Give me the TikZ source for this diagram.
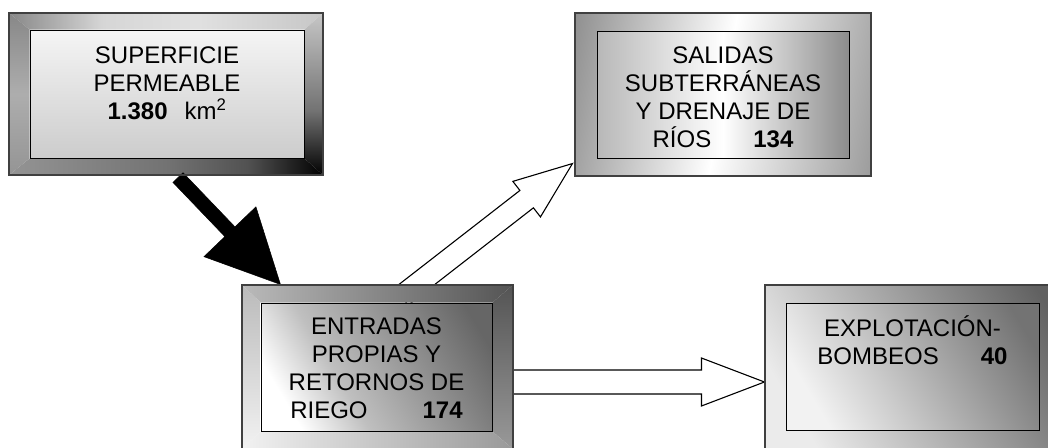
\documentclass[tikz,border=0pt]{standalone}
\usepackage{fontspec}
\setmainfont{Liberation Sans}
\usetikzlibrary{calc,backgrounds}
\definecolor{outerline}{gray}{0.25}
% box 1 frame strips (unrotated shadings)
\pgfdeclarehorizontalshading{shAtop}{100bp}{color(0bp)=(black!47); color(25bp)=(black!47); color(40bp)=(black!16); color(55bp)=(black!12); color(75bp)=(black!22); color(100bp)=(black!22)}
\pgfdeclareverticalshading{shAright}{100bp}{color(0bp)=(black); color(25bp)=(black); color(45bp)=(black!55); color(75bp)=(black!22); color(100bp)=(black!22)}
\pgfdeclarehorizontalshading{shAbot}{100bp}{color(0bp)=(black!42); color(25bp)=(black!42); color(50bp)=(black!55); color(63bp)=(black!68); color(75bp)=(black); color(100bp)=(black)}
\pgfdeclareverticalshading{shAleft}{100bp}{color(0bp)=(black!42); color(25bp)=(black!42); color(50bp)=(black!32); color(75bp)=(black!47); color(100bp)=(black!47)}
\pgfdeclareverticalshading{shAi}{100bp}{color(0bp)=(black!20); color(25bp)=(black!20); color(75bp)=(black!4); color(100bp)=(black!4)}
% box 3 frame strips
\pgfdeclarehorizontalshading{shCtop}{100bp}{color(0bp)=(black!27); color(25bp)=(black!27); color(75bp)=(black!67); color(100bp)=(black!67)}
\pgfdeclareverticalshading{shCright}{100bp}{color(0bp)=(black!40); color(25bp)=(black!40); color(75bp)=(black!67); color(100bp)=(black!67)}
\pgfdeclarehorizontalshading{shCbot}{100bp}{color(0bp)=(black!5); color(25bp)=(black!5); color(75bp)=(black!40); color(100bp)=(black!40)}
\pgfdeclareverticalshading{shCleft}{100bp}{color(0bp)=(black!5); color(25bp)=(black!5); color(75bp)=(black!27); color(100bp)=(black!27)}
\pgfdeclarehorizontalshading{shBo}{100bp}{color(0bp)=(black!45); color(20bp)=(black!45); color(50bp)=(white); color(80bp)=(black!40); color(100bp)=(black!40)}
\pgfdeclarehorizontalshading{shBi}{100bp}{color(0bp)=(black!28); color(25bp)=(black!28); color(50bp)=(white); color(75bp)=(black!45); color(100bp)=(black!45)}
\pgfdeclarehorizontalshading{shCi}{100bp}{color(0bp)=(white); color(25bp)=(white); color(40bp)=(black!25); color(78bp)=(black!60); color(100bp)=(black!60)}
\pgfdeclarehorizontalshading{shDo}{100bp}{color(0bp)=(black!8); color(25bp)=(black!8); color(80bp)=(black!62); color(100bp)=(black!62)}
\pgfdeclarehorizontalshading{shDi}{100bp}{color(0bp)=(black!5); color(25bp)=(black!5); color(78bp)=(black!55); color(100bp)=(black!55)}
\tikzset{
  outerbox/.style={rectangle, draw=outerline, line width=1.1pt, inner sep=0pt},
  innerbox/.style={rectangle, draw=black, line width=1pt, inner sep=0pt},
  boxtext/.style={anchor=base, inner sep=0pt, align=center, font=\fontsize{24}{28}\selectfont},
  hollowarrow/.style={draw=black, line width=1.1pt, fill=white, line join=miter},
  solidarrow/.style={fill=black, draw=black, line width=0.5pt}
}
\begin{document}
\begin{tikzpicture}[x=1pt,y=-1pt]
\useasboundingbox (0,0) rectangle (1048,447);
\begin{scope}
\clip (0,0) rectangle (1048,447);
% Box 1
\node[outerbox, minimum width=314pt, minimum height=162pt] (s1o) at (166,94) {};
\node[innerbox, minimum width=274pt, minimum height=128pt, shading=shAi] (s1i) at (167,94) {};
\node[boxtext] (s1t) at ($(s1i.north)+(0,90)$) {SUPERFICIE\\PERMEABLE\\\textbf{1.380}\hspace{17pt}km\textsuperscript{2}};
% Box 2
\node[outerbox, minimum width=296pt, minimum height=163pt, shading=shBo, shading angle=-10] (s2o) at (723,94.5) {};
\node[innerbox, minimum width=252pt, minimum height=127pt, shading=shBi, shading angle=0] (s2i) at (723,94.5) {};
\node[boxtext] (s2t) at ($(s2i.north)+(0,117)$) {SALIDAS\\SUBTERRÁNEAS\\Y DRENAJE DE\\RÍOS\hspace{42pt}\textbf{134}};
% Box 3
\node[outerbox, minimum width=271pt, minimum height=164pt] (s3o) at (377.5,367) {};
\node[innerbox, minimum width=231pt, minimum height=128pt, shading=shCi, shading angle=31] (s3i) at (376.5,367) {};
\node[boxtext] (s3t) at ($(s3i.north)+(0,116)$) {ENTRADAS\\PROPIAS Y\\RETORNOS DE\\RIEGO\hspace{55pt}\textbf{174}};
% Box 4
\node[outerbox, minimum width=295pt, minimum height=164pt, shading=shDo, shading angle=31] (s4o) at (912.5,367) {};
\node[innerbox, minimum width=253pt, minimum height=127pt, shading=shDi, shading angle=31] (s4i) at (912.5,366.5) {};
\node[boxtext] (s4t) at ($(s4i.north)+(0,62)$) {EXPLOTACIÓN-\\BOMBEOS\hspace{42pt}\textbf{40}};
\end{scope}
% Arrow anchor points
\coordinate (a1) at ($(s1o.south)+(12,2)$);
\coordinate (b1) at ($(s3o.north west)+(39,0)$);
\coordinate (h1) at ($(b1)!73pt!(a1)$);
\coordinate (a2) at ($(s3o.north west)+(160,12)$);
\coordinate (b2) at ($(s2o.south west)+(-2,-13)$);
\coordinate (h2) at ($(b2)!58pt!(a2)$);
\coordinate (a3) at ($(s3o.east)+(-8,15)$);
\coordinate (b3) at ($(s4o.west)+(0,15)$);
\coordinate (h3) at ($(b3)!63pt!(a3)$);
\begin{scope}[on background layer]
% frame of box 1, four shaded strips
\shade[shading=shAtop] (s1o.north west) -- (s1o.north east) -- (s1i.north east) -- (s1i.north west) -- cycle;
\shade[shading=shAright] (s1o.north east) -- (s1o.south east) -- (s1i.south east) -- (s1i.north east) -- cycle;
\shade[shading=shAbot] (s1o.south west) -- (s1o.south east) -- (s1i.south east) -- (s1i.south west) -- cycle;
\shade[shading=shAleft] (s1o.north west) -- (s1o.south west) -- (s1i.south west) -- (s1i.north west) -- cycle;
% arrows
\draw[solidarrow] ($(a1)!7pt!-90:(b1)$) -- ($(h1)!7pt!-90:(b1)$) -- ($(h1)!36pt!-90:(b1)$) -- (b1)
  -- ($(h1)!36pt!90:(b1)$) -- ($(h1)!7pt!90:(b1)$) -- ($(a1)!7pt!90:(b1)$) -- cycle;
\draw[hollowarrow] ($(a2)!11pt!-90:(b2)$) -- ($(h2)!11pt!-90:(b2)$) -- ($(h2)!22.5pt!-90:(b2)$) -- (b2)
  -- ($(h2)!22.5pt!90:(b2)$) -- ($(h2)!11pt!90:(b2)$) -- ($(a2)!11pt!90:(b2)$) -- cycle;
\draw[hollowarrow] ($(a3)!12pt!-90:(b3)$) -- ($(h3)!12pt!-90:(b3)$) -- ($(h3)!24pt!-90:(b3)$) -- (b3)
  -- ($(h3)!24pt!90:(b3)$) -- ($(h3)!12pt!90:(b3)$) -- ($(a3)!12pt!90:(b3)$) -- cycle;
% frame of box 3, drawn over the arrow tails
\shade[shading=shCtop] (s3o.north west) -- (s3o.north east) -- (s3i.north east) -- (s3i.north west) -- cycle;
\shade[shading=shCright] (s3o.north east) -- (s3o.south east) -- (s3i.south east) -- (s3i.north east) -- cycle;
\shade[shading=shCbot] (s3o.south west) -- (s3o.south east) -- (s3i.south east) -- (s3i.south west) -- cycle;
\shade[shading=shCleft] (s3o.north west) -- (s3o.south west) -- (s3i.south west) -- (s3i.north west) -- cycle;
\end{scope}
\end{tikzpicture}
\end{document}
